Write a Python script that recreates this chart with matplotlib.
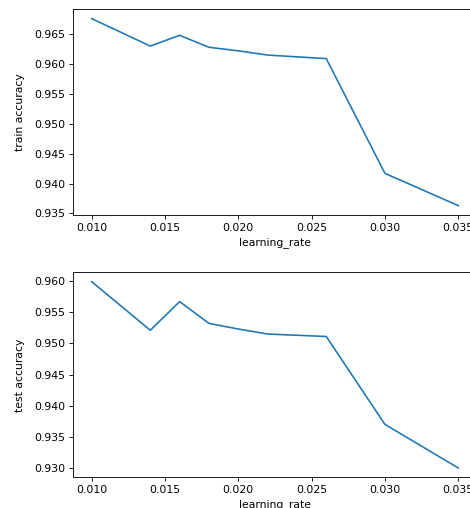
import matplotlib
matplotlib.use("Agg")
import matplotlib.pyplot as plt

# learning rate sweep results
learning_rate = [0.010, 0.014, 0.016, 0.018, 0.020, 0.022, 0.026, 0.030, 0.035]
train_accuracy = [0.9676, 0.9630, 0.9648, 0.9628, 0.9622, 0.9615, 0.9609, 0.9417, 0.9363]
test_accuracy = [0.9599, 0.9521, 0.9567, 0.9532, 0.9523, 0.9515, 0.9511, 0.9370, 0.9300]

dpi = 78
fig = plt.figure(figsize=(470 / dpi, 508 / dpi), dpi=dpi)

# axes run a little past the right edge, like the cropped original
ax1 = fig.add_axes([0.156, 0.5768, 0.858, 0.405])
ax1.plot(learning_rate, train_accuracy)
ax1.set_xlabel("learning_rate")
ax1.set_ylabel("train accuracy", labelpad=9)

ax2 = fig.add_axes([0.156, 0.0604, 0.858, 0.4035])
ax2.plot(learning_rate, test_accuracy)
ax2.set_xlabel("learning_rate")
ax2.set_ylabel("test accuracy", labelpad=9)

fig.savefig("out.png", dpi=dpi)
